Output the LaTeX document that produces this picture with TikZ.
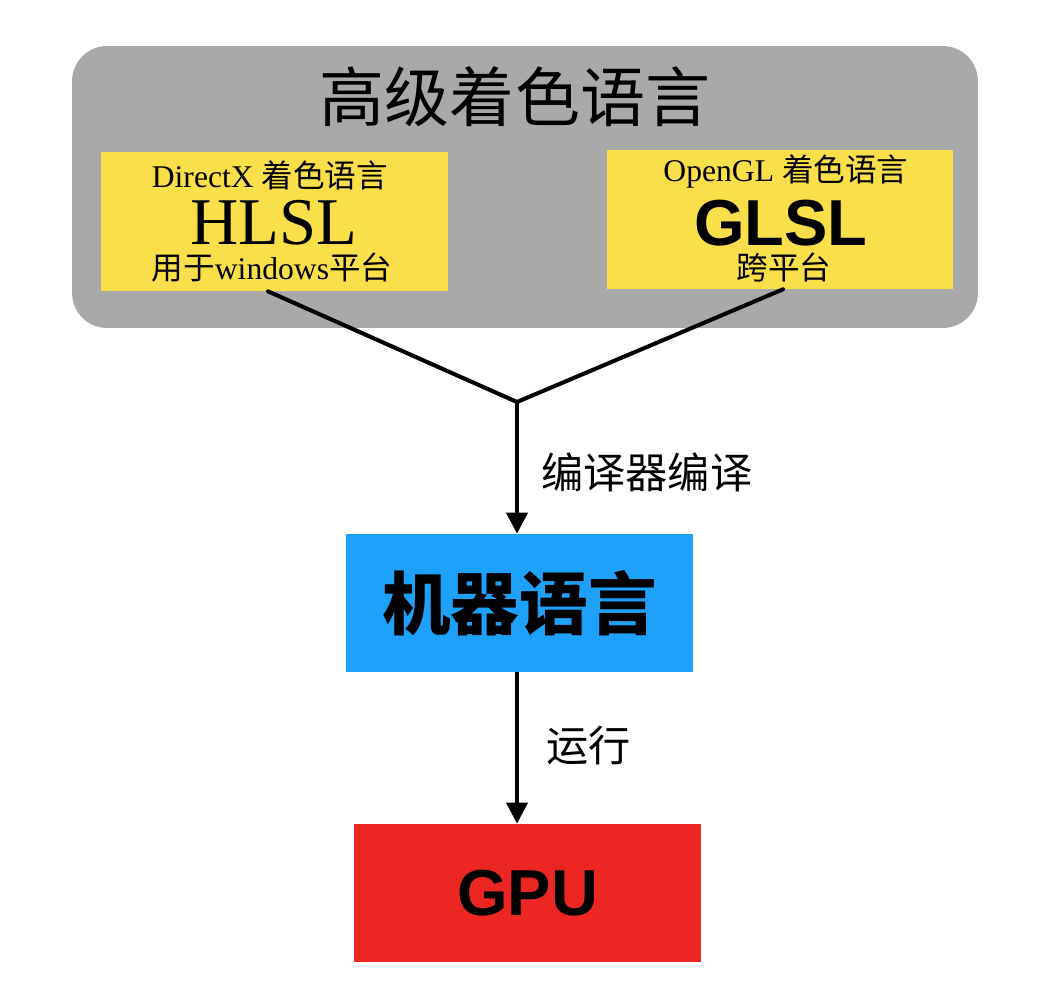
\documentclass[tikz,border=0pt]{standalone}
\usepackage{fontspec}
\setmainfont{Liberation Serif}
\setsansfont{Liberation Sans}
\newfontfamily\cjk{Noto Sans CJK SC}
\usetikzlibrary{positioning,arrows.meta}
\definecolor{panelgray}{RGB}{169,169,169}
\definecolor{shaderyellow}{RGB}{249,223,74}
\definecolor{machineblue}{RGB}{29,161,250}
\definecolor{gpured}{RGB}{236,38,34}
\tikzset{
	x=0.02cm, y=-0.02cm,
	panel/.style = {fill=panelgray, rounded corners=0.7cm, inner sep=0pt},
	langbox/.style = {fill=shaderyellow, inner sep=0pt, minimum width=6.94cm, minimum height=2.78cm},
	stagebox/.style = {inner sep=0pt, minimum width=6.94cm, minimum height=2.76cm},
	small text/.style = {inner sep=0pt, font=\fontsize{18}{18}\selectfont},
	big name/.style = {inner sep=0pt, anchor=base, text depth=0pt},
	flow/.style = {line width=2.3pt, -{Triangle[length=12pt,width=12pt]}},
	branch/.style = {line width=2.3pt, line cap=round}
}
\begin{document}
\begin{tikzpicture}
	\useasboundingbox (0,0) rectangle (1056,996);
	% shading languages panel
	\node[panel, minimum width=18.12cm, minimum height=5.64cm] (high) at (525,187) {};
	\node[inner sep=0pt, font=\cjk\fontsize{37}{37}\selectfont] (title) at (515,97) {高级着色语言};
	\node[langbox] (hlsl) at (274.5,221.5) {};
	\node[langbox] (glsl) at (780,219.5) {};
	\node[small text] (hlsltop) at (270,175) {DirectX {\cjk 着色语言}};
	\node[big name, text height=0.66em, font=\fontsize{38}{38}\selectfont] (hlslname) at (274,245) {HLSL};
	\node[small text] (hlslbot) at (272,268) {{\cjk 用于}windows{\cjk 平台}};
	\node[small text] (glsltop) at (786,172) {OpenGL {\cjk 着色语言}};
	\node[big name, text height=0.72em, font=\sffamily\bfseries\fontsize{37}{37}\selectfont] (glslname) at (781,246) {GLSL};
	\node[small text] (glslbot) at (784,267) {\cjk 跨平台};
	% compile and run
	\node[stagebox, fill=machineblue, font=\cjk\bfseries\fontsize{39}{39}\selectfont] (machine) at (519.5,603) {机器语言};
	\node[stagebox, fill=gpured, font=\sffamily\bfseries\fontsize{37}{37}\selectfont] (gpu) at (527.5,893) {GPU};
	\coordinate (join) at (517,402);
	\draw[branch] ([xshift=-0.13cm]hlsl.south) -- (join);
	\draw[branch] ([xshift=0.06cm]glsl.south) -- (join);
	\draw[flow] (join) -- (join |- machine.north);
	\draw[flow] (join |- machine.south) -- (join |- gpu.north);
	\node[inner sep=0pt, font=\cjk\fontsize{24}{24}\selectfont, anchor=west] (compile) at (541,472) {编译器编译};
	\node[inner sep=0pt, font=\cjk\fontsize{24}{24}\selectfont, anchor=west] (run) at (546,746) {运行};
\end{tikzpicture}
\end{document}
